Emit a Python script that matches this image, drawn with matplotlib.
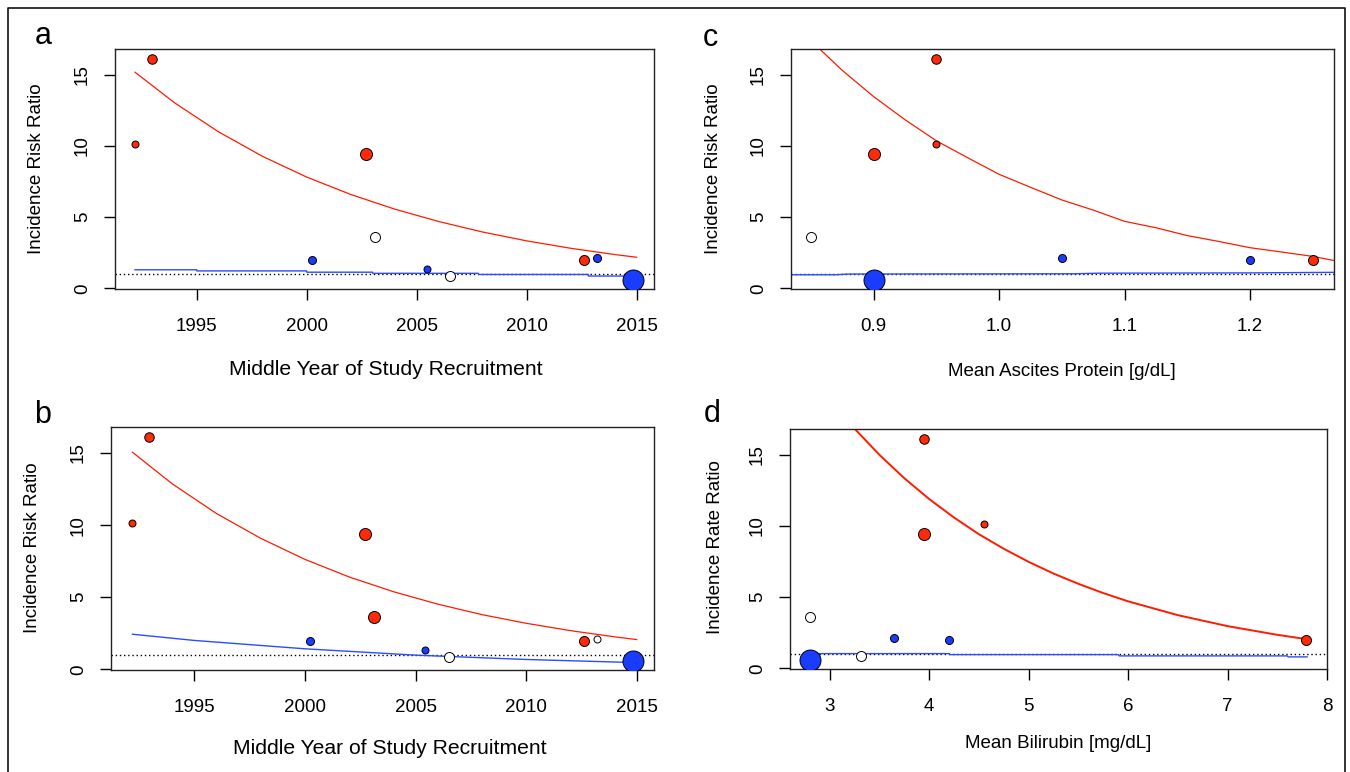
import numpy as np
import matplotlib
matplotlib.use("Agg")
import matplotlib.pyplot as plt
from matplotlib.lines import Line2D

plt.rcParams['font.family'] = ['Liberation Sans', 'DejaVu Sans']

# ---- study data (one entry per study) ----
irr = [10.15, 16.1, 9.4, 3.6, 1.97, 1.35, 0.85, 1.97, 2.13, 0.6]
year = [1992.2, 1992.95, 2002.7, 2003.1, 2000.25, 2005.45, 2006.5, 2012.6, 2013.2, 2014.85]
protein = [0.95, 0.95, 0.90, 0.85, 1.20, np.nan, np.nan, 1.25, 1.05, 0.90]
bilirubin = [4.55, 3.95, 3.95, 2.80, 4.20, np.nan, 3.31, 7.79, 3.65, 2.80]
weight = [7, 9.5, 12, 10, 8, 7, 10, 10, 8, 21]      # symbol diameter ~ study weight
weight_b = [7, 9.5, 12, 12, 8, 7, 10, 10, 7, 21]
group = ['r', 'r', 'r', 'o', 'b', 'b', 'o', 'r', 'b', 'b']
group_b = ['r', 'r', 'r', 'r', 'b', 'b', 'o', 'r', 'o', 'b']

# ---- meta-regression curves ----
fit_year = [1992.2, 1994, 1996, 1998, 2000, 2002, 2004, 2006, 2008, 2010, 2012, 2014, 2015]
red_a = [15.17, 13.02, 10.98, 9.26, 7.81, 6.59, 5.56, 4.69, 3.95, 3.33, 2.81, 2.37, 2.18]
red_b = [15.05, 12.86, 10.8, 9.08, 7.62, 6.4, 5.38, 4.52, 3.79, 3.19, 2.68, 2.25, 2.06]
blue_a_x = [1992.2, 1995, 1995.01, 2000, 2000.01, 2003, 2003.01, 2007.8, 2007.81, 2012.8, 2012.81, 2014.8]
blue_a = [1.3, 1.3, 1.22, 1.22, 1.13, 1.13, 1.05, 1.05, 0.97, 0.97, 0.86, 0.86]
blue_b_x = [1992.2, 1995, 2000, 2005, 2010, 2015]
blue_b = [2.43, 2.0, 1.42, 0.98, 0.68, 0.46]

fit_prot = [0.834, 0.85, 0.875, 0.9, 0.925, 0.95, 0.975, 1.0, 1.025, 1.05, 1.075,
            1.1, 1.125, 1.15, 1.175, 1.2, 1.225, 1.25, 1.267]
red_c = [18.9, 17.37, 15.29, 13.45, 11.83, 10.35, 9.16, 8.0, 7.09, 6.2, 5.49,
         4.7, 4.25, 3.7, 3.29, 2.85, 2.55, 2.24, 1.95]
blue_c_x = [0.834, 0.87, 0.88, 1.06, 1.08, 1.2, 1.267]
blue_c = [0.95, 0.95, 1.0, 1.02, 1.06, 1.08, 1.12]

fit_bili = [2.6, 3.0, 3.25, 3.5, 3.75, 4.0, 4.25, 4.5, 4.75, 5.0, 5.25, 5.5, 5.75,
            6.0, 6.5, 7.0, 7.5, 7.8]
red_d = [22.7, 18.89, 16.82, 14.98, 13.34, 11.88, 10.58, 9.41, 8.39, 7.47, 6.65, 5.93, 5.28,
         4.7, 3.73, 2.96, 2.35, 2.04]
blue_d_x = [2.8, 4.2, 4.21, 5.9, 5.91, 7.6, 7.61, 7.8]
blue_d = [1.03, 1.03, 0.96, 0.96, 0.87, 0.87, 0.8, 0.8]

W, H = 1350, 772
fig = plt.figure(figsize=(W / 100, H / 100), dpi=100)
fig.patch.set_facecolor('white')

RED = '#ff2a0a'
BLUE = '#1a3cff'
fills = {'r': RED, 'b': BLUE, 'o': 'white'}


def px_axes(l, t, r, b):
    return fig.add_axes([l / W, 1 - b / H, (r - l) / W, (b - t) / H])


def draw_panel(ax, x, grp, sizes, fit_x, red_y, bx, by, xlim, xticks, xticklabels, red_lw=0.9):
    ax.set_xlim(*xlim)
    ax.set_ylim(-0.05, 16.8)
    ax.axhline(1, color='black', ls=(0, (1, 2)), lw=1.0, zorder=1)
    ax.plot(fit_x, red_y, color='#ff1a00', lw=red_lw, zorder=2)
    ax.plot(bx, by, color='#2a4bff', lw=1.0, zorder=2)
    for xi, yi, g, d in zip(x, irr, grp, sizes):
        if np.isnan(xi):
            continue
        ms = d / 1.389
        ax.scatter([xi], [yi], s=ms ** 2, c=fills[g], edgecolors='black',
                   linewidths=0.7, zorder=3)
    ax.set_xticks(xticks)
    ax.set_xticklabels(xticklabels)
    ax.set_yticks([0, 5, 10, 15])
    ax.set_yticklabels(['0', '5', '10', '15'])
    for lab in ax.get_yticklabels():
        lab.set_rotation(90)
        lab.set_va('center')
    ax.tick_params(direction='out', length=7.8, width=1.0, labelsize=13.5, colors='black')
    ax.tick_params(axis='x', pad=13)
    ax.tick_params(axis='y', pad=9.5)
    for s in ax.spines.values():
        s.set_linewidth(1.0)
        s.set_color('#222222')


yrs = [1995, 2000, 2005, 2010, 2015]

# a
ax_a = px_axes(115, 49, 654, 289)
draw_panel(ax_a, year, group, weight, fit_year, red_a, blue_a_x, blue_a,
           (1991.29, 2015.79), yrs, [str(v) for v in yrs])
# b
ax_b = px_axes(111, 427, 653.5, 670)
draw_panel(ax_b, year, group_b, weight_b, fit_year, red_b, blue_b_x, blue_b,
           (1991.23, 2015.76), yrs, [str(v) for v in yrs])
# c
ax_c = px_axes(791, 49, 1334, 289)
draw_panel(ax_c, protein, group, weight, fit_prot, red_c, blue_c_x, blue_c,
           (0.834, 1.267), [0.9, 1.0, 1.1, 1.2], ['0.9', '1.0', '1.1', '1.2'])
# d
ax_d = px_axes(790, 429, 1327, 669)
draw_panel(ax_d, bilirubin, group, weight, fit_bili, red_d, blue_d_x, blue_d,
           (2.6, 8.0), [3, 4, 5, 6, 7, 8], ['3', '4', '5', '6', '7', '8'], red_lw=1.4)


def ftext(x, y, s, **kw):
    fig.text(x / W, 1 - y / H, s, **kw)


# axis titles
ftext(385.5, 370, 'Middle Year of Study Recruitment', ha='center', va='center', fontsize=15.2)
ftext(390, 748, 'Middle Year of Study Recruitment', ha='center', va='center', fontsize=15.2)
ftext(1062, 372, 'Mean Ascites Protein [g/dL]', ha='center', va='center', fontsize=13.5)
ftext(1058, 743, 'Mean Bilirubin [mg/dL]', ha='center', va='center', fontsize=13.5)
ftext(37, 169, 'Incidence Risk Ratio', ha='center', va='center', rotation=90, fontsize=13.5)
ftext(33, 548, 'Incidence Risk Ratio', ha='center', va='center', rotation=90, fontsize=13.5)
ftext(713, 169, 'Incidence Risk Ratio', ha='center', va='center', rotation=90, fontsize=13.5)
ftext(715, 547, 'Incidence Rate Ratio', ha='center', va='center', rotation=90, fontsize=13.5)

# panel letters
ftext(43, 44, 'a', ha='center', va='baseline', fontsize=22)
ftext(43, 423, 'b', ha='center', va='baseline', fontsize=22)
ftext(710, 46.5, 'c', ha='center', va='baseline', fontsize=22)
ftext(712, 422, 'd', ha='center', va='baseline', fontsize=22)

# outer frame (left, top, right)
fx = [8.3 / W, 8.3 / W, 1345 / W, 1345 / W]
fy = [0.0, 1 - 8.3 / H, 1 - 8.3 / H, 0.0]
fig.add_artist(Line2D(fx, fy, transform=fig.transFigure, lw=1.2, color='#111111'))

fig.savefig('out.png', dpi=100)
